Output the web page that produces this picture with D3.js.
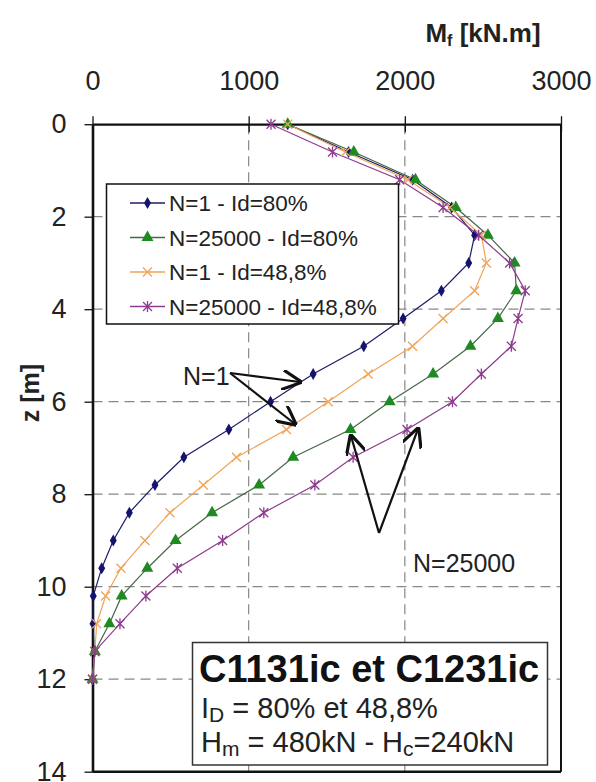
<!DOCTYPE html>
<html>
<head>
<meta charset="utf-8">
<script src="https://cdn.jsdelivr.net/npm/d3@7"></script>
<style>
  body { margin: 0; background: #fff; }
  svg { font-family: "Liberation Sans", Arial, sans-serif; }
</style>
</head>
<body>
<svg id="chart" width="596" height="782"></svg>
<script>
// depth of each measuring point [m]
const depth = [0, 0.6, 1.2, 1.8, 2.4, 3.0, 3.6, 4.2, 4.8, 5.4, 6.0, 6.6, 7.2, 7.8, 8.4, 9.0, 9.6, 10.2, 10.8, 11.4, 12.0];

// bending moment Mf [kN.m]
const n1Id80 = [1250, 1640, 2050, 2300, 2447, 2409, 2234, 1989, 1737, 1413, 1140, 873, 585, 400, 236, 133, 59, 5, 3, 10, 0];
const n25000Id80 = [1250, 1673, 2068, 2326, 2532, 2703, 2714, 2596, 2420, 2181, 1903, 1652, 1285, 1067, 766, 532, 351, 187, 108, 15, 0];
const n1Id48 = [1250, 1620, 2020, 2290, 2490, 2522, 2447, 2245, 2049, 1765, 1509, 1242, 922, 709, 496, 336, 182, 84, 27, 15, 0];
const n25000Id48 = [1143, 1537, 1967, 2245, 2473, 2671, 2771, 2725, 2682, 2490, 2305, 2014, 1669, 1424, 1097, 833, 543, 342, 176, 15, 0];

const seriesNames = ["N=1 - Id=80%", "N=25000 - Id=80%", "N=1 - Id=48,8%", "N=25000 - Id=48,8%"];
const xTicks = [0, 1000, 2000, 3000];
const yTicks = [0, 2, 4, 6, 8, 10, 12, 14];

const svg = d3.select("#chart");

let x = d3.scaleLinear().domain([0, 3000]).range([92.5, 561]);
let y = d3.scaleLinear().domain([0, 14]).range([124.2, 771.7]);

const styles = [
  { line: "#1c1c6a", fill: "#14146e", marker: "diamond" },
  { line: "#456845", fill: "#1f8a22", marker: "triangle" },
  { line: "#efa458", fill: "#efa458", marker: "x" },
  { line: "#8e3a8e", fill: "#8e3a8e", marker: "star" }
];

let series = [n1Id80, n25000Id80, n1Id48, n25000Id48].map((vals, i) => ({
  name: seriesNames[i],
  style: styles[i],
  points: vals.map((v, j) => ({ v: v, z: depth[j] }))
}));

function markerPath(type) {
  if (type === "diamond") return d3.symbol(d3.symbolDiamond, 42)();
  if (type === "triangle") return d3.symbol(d3.symbolTriangle, 62)();
  if (type === "x") return "M-4.5,-4.5L4.5,4.5M-4.5,4.5L4.5,-4.5";
  return "M-4.5,-4.5L4.5,4.5M-4.5,4.5L4.5,-4.5M0,-5.5L0,5.5";
}

function drawMarker(g, type, st) {
  let p = g.append("path").attr("d", markerPath(type));
  if (type === "diamond" || type === "triangle") {
    p.attr("fill", st.fill).attr("stroke", "none");
  } else {
    p.attr("fill", "none").attr("stroke", st.fill).attr("stroke-width", 1.3);
  }
}

// grid lines (dashed)
svg.append("g").selectAll("line")
  .data([2, 4, 6, 8, 10, 12])
  .join("line")
    .attr("x1", x(0)).attr("x2", x(3000))
    .attr("y1", d => y(d)).attr("y2", d => y(d))
    .attr("stroke", "#888").attr("stroke-width", 1.2)
    .attr("stroke-dasharray", "10,6");

svg.append("g").selectAll("line")
  .data([1000, 2000])
  .join("line")
    .attr("x1", d => x(d)).attr("x2", d => x(d))
    .attr("y1", y(0)).attr("y2", y(14))
    .attr("stroke", "#888").attr("stroke-width", 1.2)
    .attr("stroke-dasharray", "10,6");

// frame: right and bottom border
svg.append("line")
  .attr("x1", x(3000)).attr("x2", x(3000)).attr("y1", y(0)).attr("y2", y(14))
  .attr("stroke", "#111").attr("stroke-width", 2);
svg.append("line")
  .attr("x1", x(0)).attr("x2", x(3000)).attr("y1", y(14)).attr("y2", y(14))
  .attr("stroke", "#111").attr("stroke-width", 2.5);

// top axis
let xAxis = svg.append("g")
  .attr("transform", `translate(0,${y(0)})`)
  .call(d3.axisTop(x).tickValues(xTicks).tickFormat(d3.format("d")).tickSizeInner(8).tickSizeOuter(0).tickPadding(26));
xAxis.select(".domain").attr("stroke", "#111").attr("stroke-width", 2.2);
xAxis.selectAll(".tick line").attr("stroke", "#111").attr("stroke-width", 1.3).attr("y2", 8).attr("y1", -8);
xAxis.selectAll(".tick text")
  .attr("font-size", 27).attr("fill", "#222")
  .attr("font-family", "Liberation Sans, Arial, sans-serif");

// left axis
let yAxis = svg.append("g")
  .attr("transform", `translate(${x(0)},0)`)
  .call(d3.axisLeft(y).tickValues(yTicks).tickSizeInner(8).tickSizeOuter(0).tickPadding(18));
yAxis.select(".domain").attr("stroke", "#111").attr("stroke-width", 2.6);
yAxis.selectAll(".tick line").attr("stroke", "#111").attr("stroke-width", 1.3);
yAxis.selectAll(".tick text")
  .attr("font-size", 27).attr("fill", "#222")
  .attr("font-family", "Liberation Sans, Arial, sans-serif");

// axis titles
let xTitle = svg.append("text")
  .attr("x", 483).attr("y", 42)
  .attr("text-anchor", "middle")
  .attr("font-size", 26).attr("font-weight", "bold").attr("fill", "#222");
xTitle.append("tspan").text("M");
xTitle.append("tspan").attr("font-size", 16).attr("dy", 4).text("f");
xTitle.append("tspan").attr("dy", -4).text(" [kN.m]");

svg.append("text")
  .attr("transform", "translate(39,393) rotate(-90)")
  .attr("text-anchor", "middle")
  .attr("font-size", 25).attr("font-weight", "bold").attr("fill", "#222")
  .text("z [m]");

// curves
let line = d3.line().x(d => x(d.v)).y(d => y(d.z));

series.forEach(s => {
  svg.append("path")
    .datum(s.points)
    .attr("d", line)
    .attr("fill", "none")
    .attr("stroke", s.style.line)
    .attr("stroke-width", 1.2);
});

series.forEach(s => {
  s.points.forEach(p => {
    let g = svg.append("g").attr("transform", `translate(${x(p.v)},${y(p.z)})`);
    drawMarker(g, s.style.marker, s.style);
  });
});

// legend
let legend = svg.append("g");
legend.append("rect")
  .attr("x", 106.5).attr("y", 184).attr("width", 292).attr("height", 140)
  .attr("fill", "#fff").attr("stroke", "#111").attr("stroke-width", 1.5);

series.forEach((s, i) => {
  let ly = 203 + i * 34.5;
  legend.append("line")
    .attr("x1", 130).attr("x2", 165).attr("y1", ly).attr("y2", ly)
    .attr("stroke", s.style.line).attr("stroke-width", 1.3);
  let g = legend.append("g").attr("transform", `translate(147.5,${ly})`);
  drawMarker(g, s.style.marker, s.style);
  legend.append("text")
    .attr("x", 169).attr("y", ly + 8)
    .attr("font-size", 22.5).attr("fill", "#222")
    .text(s.name);
});

// arrow annotations
svg.append("defs").append("marker")
  .attr("id", "arrow")
  .attr("viewBox", "0 0 10 10")
  .attr("refX", 9).attr("refY", 5)
  .attr("markerWidth", 9).attr("markerHeight", 9)
  .attr("orient", "auto")
  .append("path")
    .attr("d", "M0,0L10,5L0,10")
    .attr("fill", "none").attr("stroke", "#111").attr("stroke-width", 1.6);

const arrows = [
  [[230, 373], [300, 382]],
  [[230, 373], [295, 424]],
  [[379, 533], [351, 436]],
  [[379, 533], [418, 429]]
];
svg.append("g").selectAll("line")
  .data(arrows)
  .join("line")
    .attr("x1", d => d[0][0]).attr("y1", d => d[0][1])
    .attr("x2", d => d[1][0]).attr("y2", d => d[1][1])
    .attr("stroke", "#111").attr("stroke-width", 2.2)
    .attr("marker-end", "url(#arrow)");

svg.append("text")
  .attr("x", 183).attr("y", 385)
  .attr("font-size", 25).attr("fill", "#222")
  .text("N=1");

svg.append("text")
  .attr("x", 413).attr("y", 572)
  .attr("font-size", 25).attr("fill", "#222")
  .text("N=25000");

// info box
let info = svg.append("g");
info.append("rect")
  .attr("x", 192.5).attr("y", 642.5).attr("width", 355).attr("height", 122.5)
  .attr("fill", "#fff").attr("stroke", "#333").attr("stroke-width", 1.5);

info.append("text")
  .attr("x", 199).attr("y", 682)
  .attr("font-size", 38).attr("font-weight", "bold").attr("fill", "#111")
  .text("C1131ic et C1231ic");

let l2 = info.append("text")
  .attr("x", 201).attr("y", 718)
  .attr("font-size", 29).attr("fill", "#222");
l2.append("tspan").text("I");
l2.append("tspan").attr("font-size", 21).attr("dy", 4).text("D");
l2.append("tspan").attr("dy", -4).text(" = 80% et 48,8%");

let l3 = info.append("text")
  .attr("x", 201).attr("y", 752)
  .attr("font-size", 29).attr("fill", "#222");
l3.append("tspan").text("H");
l3.append("tspan").attr("font-size", 21).attr("dy", 4).text("m");
l3.append("tspan").attr("dy", -4).text(" = 480kN - H");
l3.append("tspan").attr("font-size", 21).attr("dy", 4).text("c");
l3.append("tspan").attr("dy", -4).text("=240kN");
</script>
</body>
</html>
